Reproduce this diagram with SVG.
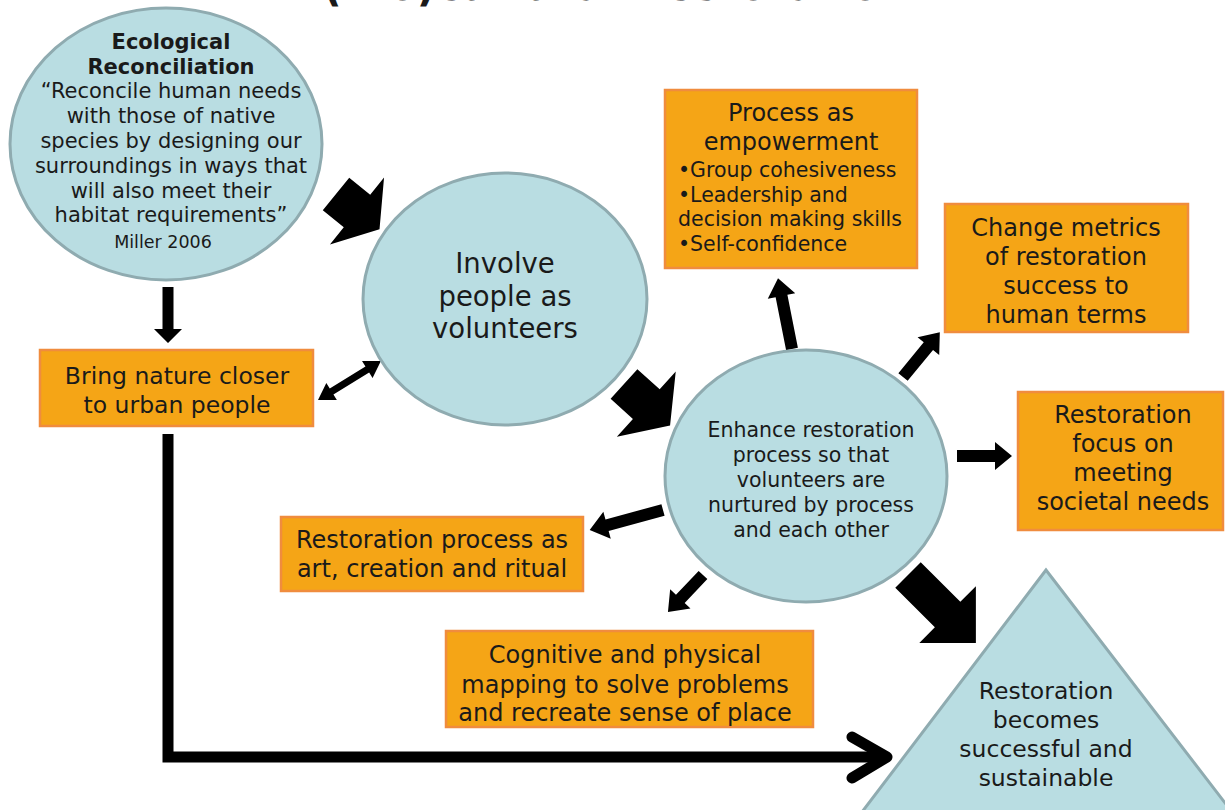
<svg xmlns="http://www.w3.org/2000/svg" width="1225" height="810" viewBox="0 0 1225 810">
  <style>
    .blob { fill: #b9dde2; stroke: #8fabb0; stroke-width: 3; }
    .box { fill: #f5a516; stroke: #f08c3e; stroke-width: 2.5; }
    .t { font-family: "DejaVu Sans", Verdana, sans-serif; fill: #1a1a1a; text-anchor: middle; }
    .l { text-anchor: start; }
    .b { font-weight: bold; }
    .ar { fill: #000; }
  </style>
  <rect width="1225" height="810" fill="#ffffff"/>

  <!-- title, clipped by the top edge -->
  <text class="t b" x="616" y="0" font-size="50" textLength="587" lengthAdjust="spacingAndGlyphs">(Bio)cultural Restoration</text>

  <!-- connectors -->
  <g id="connectors">
    <polygon class="ar" transform="translate(336,194) rotate(39)" points="0,-21 27,-21 27,-43 56,0 27,43 27,21 0,21"/>
    <polygon class="ar" transform="translate(624,384) rotate(42)" points="0,-20 30,-20 30,-44 62,0 30,44 30,20 0,20"/>
    <polygon class="ar" transform="translate(908,575) rotate(45)" points="0,-18 56,-18 56,-40 96,0 56,40 56,18 0,18"/>
    <polygon class="ar" transform="translate(168,287) rotate(90)" points="0,-5.5 42,-5.5 42,-14 56,0 42,14 42,5.5 0,5.5"/>
    <polygon class="ar" transform="translate(318,400) rotate(-31.8)" points="0,0 16,-10 16,-3.5 58,-3.5 58,-10 74,0 58,10 58,3.5 16,3.5 16,10"/>
    <polygon class="ar" transform="translate(792,349) rotate(-101.2)" points="0,-6 54,-6 54,-14 72,0 54,14 54,6 0,6"/>
    <polygon class="ar" transform="translate(903,377) rotate(-50.6)" points="0,-6 40,-6 40,-14 58,0 40,14 40,6 0,6"/>
    <polygon class="ar" transform="translate(957,456)" points="0,-6 38,-6 38,-14 55,0 38,14 38,6 0,6"/>
    <polygon class="ar" transform="translate(663,510) rotate(164.7)" points="0,-6 58,-6 58,-14 76,0 58,14 58,6 0,6"/>
    <polygon class="ar" transform="translate(703,575) rotate(133.4)" points="0,-6 33,-6 33,-14 51,0 33,14 33,6 0,6"/>
    <path d="M168,434 V757 H884" fill="none" stroke="#000" stroke-width="11"/>
    <polyline points="852,737 887,757 852,778" fill="none" stroke="#000" stroke-width="11" stroke-linecap="round" stroke-linejoin="round"/>
  </g>

  <g id="ecological-reconciliation">
    <ellipse class="blob" cx="166" cy="144" rx="156" ry="136"/>
    <text class="t b" x="171" y="49" font-size="21">Ecological</text>
    <text class="t b" x="171" y="74" font-size="21">Reconciliation</text>
    <text class="t" x="171" y="98" font-size="21">“Reconcile human needs</text>
    <text class="t" x="171" y="123" font-size="21">with those of native</text>
    <text class="t" x="171" y="148" font-size="21">species by designing our</text>
    <text class="t" x="171" y="173" font-size="21">surroundings in ways that</text>
    <text class="t" x="171" y="198" font-size="21">will also meet their</text>
    <text class="t" x="171" y="222" font-size="21">habitat requirements”</text>
    <text class="t" x="163" y="248" font-size="17.5">Miller 2006</text>
  </g>

  <g id="involve-volunteers">
    <ellipse class="blob" cx="505" cy="299" rx="142" ry="126"/>
    <text class="t" x="505" y="273" font-size="27.5">Involve</text>
    <text class="t" x="505" y="306" font-size="27.5">people as</text>
    <text class="t" x="505" y="338" font-size="27.5">volunteers</text>
  </g>

  <g id="enhance-process">
    <ellipse class="blob" cx="806" cy="476" rx="141" ry="126"/>
    <text class="t" x="811" y="437" font-size="20.5">Enhance restoration</text>
    <text class="t" x="811" y="462" font-size="20.5">process so that</text>
    <text class="t" x="811" y="487" font-size="20.5">volunteers are</text>
    <text class="t" x="811" y="512" font-size="20.5">nurtured by process</text>
    <text class="t" x="811" y="537" font-size="20.5">and each other</text>
  </g>

  <g id="successful-sustainable">
    <polygon class="blob" points="1046,570 862,812 1232,812"/>
    <text class="t" x="1046" y="699" font-size="23.5">Restoration</text>
    <text class="t" x="1046" y="728" font-size="23.5">becomes</text>
    <text class="t" x="1046" y="757" font-size="23.5">successful and</text>
    <text class="t" x="1046" y="786" font-size="23.5">sustainable</text>
  </g>

  <g id="nature-closer">
    <rect class="box" x="40" y="350" width="273" height="76"/>
    <text class="t" x="177" y="384" font-size="23.5">Bring nature closer</text>
    <text class="t" x="177" y="413" font-size="23.5">to urban people</text>
  </g>

  <g id="empowerment">
    <rect class="box" x="665" y="90" width="252" height="178"/>
    <text class="t" x="791" y="121" font-size="24">Process as</text>
    <text class="t" x="791" y="150" font-size="24">empowerment</text>
    <text class="t l" x="678" y="177" font-size="20.5">•Group cohesiveness</text>
    <text class="t l" x="678" y="202" font-size="20.5">•Leadership and</text>
    <text class="t l" x="678" y="226" font-size="20.5">decision making skills</text>
    <text class="t l" x="678" y="251" font-size="20.5">•Self-confidence</text>
  </g>

  <g id="change-metrics">
    <rect class="box" x="945" y="204" width="243" height="128"/>
    <text class="t" x="1066" y="236" font-size="24">Change metrics</text>
    <text class="t" x="1066" y="265" font-size="24">of restoration</text>
    <text class="t" x="1066" y="294" font-size="24">success to</text>
    <text class="t" x="1066" y="323" font-size="24">human terms</text>
  </g>

  <g id="societal-needs">
    <rect class="box" x="1018" y="392" width="205" height="138"/>
    <text class="t" x="1123" y="423" font-size="24">Restoration</text>
    <text class="t" x="1123" y="452" font-size="24">focus on</text>
    <text class="t" x="1123" y="481" font-size="24">meeting</text>
    <text class="t" x="1123" y="510" font-size="24">societal needs</text>
  </g>

  <g id="art-ritual">
    <rect class="box" x="281" y="517" width="302" height="74"/>
    <text class="t" x="432" y="548" font-size="24">Restoration process as</text>
    <text class="t" x="432" y="577" font-size="24">art, creation and ritual</text>
  </g>

  <g id="cognitive-mapping">
    <rect class="box" x="446" y="631" width="367" height="96"/>
    <text class="t" x="625" y="663" font-size="24">Cognitive and physical</text>
    <text class="t" x="625" y="693" font-size="24">mapping to solve problems</text>
    <text class="t" x="625" y="721" font-size="24">and recreate sense of place</text>
  </g>
</svg>
